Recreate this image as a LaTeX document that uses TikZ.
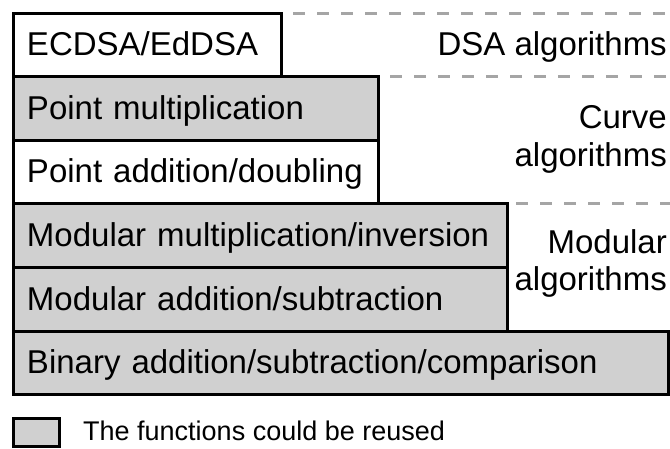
\documentclass[tikz,border=0pt]{standalone}
\usepackage{fontspec}
\setmainfont{Liberation Sans}
\definecolor{reuse}{RGB}{208,208,208}
\definecolor{guidegray}{RGB}{165,165,165}
\tikzset{
  layer/.style={draw, line width=3pt, outer sep=0pt, anchor=north west,
    inner xsep=14pt, inner ysep=0pt, align=left,
    font=\fontsize{33}{39}\selectfont, text height=23pt, text depth=1pt},
  reusable/.style={fill=reuse},
  plain/.style={fill=white},
  groupname/.style={anchor=base east, inner sep=0pt,
    font=\fontsize{33}{39}\selectfont},
  guide/.style={draw=guidegray, line width=3pt, dash pattern=on 12pt off 12pt, dash phase=12pt}
}
\begin{document}
\begin{tikzpicture}[x=1pt, y=-1pt]
  \useasboundingbox (0,0) rectangle (670,448);
  \coordinate (rim) at (670,0);

  % stack of function layers
  \node[layer, plain, minimum width=268pt, minimum height=63pt, text width=240pt]
    (ecdsa) at (13,13) {ECDSA/EdDSA};
  \node[layer, reusable, minimum width=365pt, minimum height=64pt, text width=337pt]
    (pmul) at (13,76) {Point multiplication};
  \node[layer, plain, minimum width=365pt, minimum height=63pt, text width=337pt]
    (padd) at (13,140) {Point addition/doubling};
  \node[layer, reusable, minimum width=494pt, minimum height=64pt, text width=466pt]
    (mmul) at (13,203) {Modular multiplication/inversion};
  \node[layer, reusable, minimum width=494pt, minimum height=64pt, text width=466pt]
    (madd) at (13,267) {Modular addition/subtraction};
  \node[layer, reusable, minimum width=655pt, minimum height=63.5pt, text width=627pt]
    (bin) at (13,331) {Binary addition/subtraction/comparison};

  % group separators
  \draw[guide] (ecdsa.north east) -- (ecdsa.north east -| rim);
  \draw[guide] (pmul.north east) -- (pmul.north east -| rim);
  \draw[guide, dash phase=15pt] (mmul.north east) -- (mmul.north east -| rim);

  % group names
  \node[groupname] (dsa) at (667,55) {DSA algorithms};
  \node[groupname] (curve1) at (667,128) {Curve};
  \node[groupname] (curve2) at (667,166) {algorithms};
  \node[groupname] (mod1) at (667,253) {Modular};
  \node[groupname] (mod2) at (667,290) {algorithms};

  % legend
  \node[draw, line width=3pt, outer sep=0pt, fill=reuse, anchor=north west,
    minimum width=46pt, minimum height=28pt, inner sep=0pt] (key) at (13,418) {};
  \node[anchor=base west, inner sep=0pt, font=\fontsize{27}{32}\selectfont]
    (keytext) at (83,440) {The functions could be reused};
\end{tikzpicture}
\end{document}
